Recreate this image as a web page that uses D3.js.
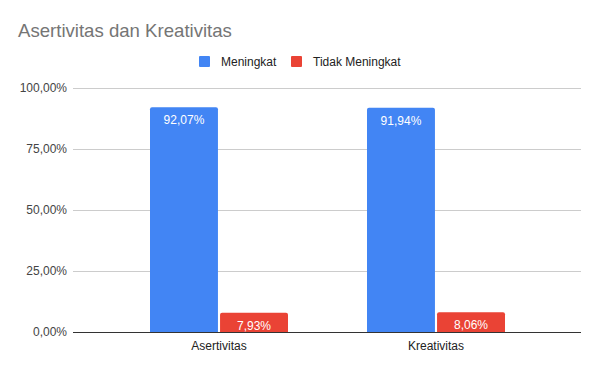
<!DOCTYPE html>
<html>
<head>
<meta charset="utf-8">
<script src="https://cdn.jsdelivr.net/npm/d3@7"></script>
<style>
  body { margin: 0; background: #fff; }
  text { font-family: Arial, "Liberation Sans", sans-serif; }
</style>
</head>
<body>
<div id="chart"></div>
<script>
const categories = ["Asertivitas", "Kreativitas"];
const seriesNames = ["Meningkat", "Tidak Meningkat"];
const meningkat = [92.07, 91.94];
const tidakMeningkat = [7.93, 8.06];
const yTicks = [0, 25, 50, 75, 100];
const colors = ["#4285F4", "#EA4335"];

const width = 600, height = 371;
const plotLeft = 73, plotRight = 581, plotTop = 88, plotBottom = 332;
const font = "Arial, 'Liberation Sans', sans-serif";

const fmt = v => d3.format(".2f")(v).replace(".", ",") + "%";

const svg = d3.select("#chart").append("svg")
  .attr("width", width)
  .attr("height", height);

svg.append("rect").attr("width", width).attr("height", height).attr("fill", "#fff");

// title
svg.append("text")
  .attr("x", 18).attr("y", 37)
  .attr("font-size", 18.6)
  .attr("fill", "#757575")
  .text("Asertivitas dan Kreativitas");

// legend
const legend = svg.append("g");
const legendItems = [{ name: seriesNames[0], x: 199 }, { name: seriesNames[1], x: 291 }];
legendItems.forEach((d, i) => {
  legend.append("rect")
    .attr("x", d.x).attr("y", 56)
    .attr("width", 11).attr("height", 11)
    .attr("rx", 1)
    .attr("fill", colors[i]);
  legend.append("text")
    .attr("x", d.x + 22).attr("y", 66)
    .attr("font-size", 12)
    .attr("fill", "#222")
    .text(d.name);
});

const y = d3.scaleLinear().domain([0, 100]).range([plotBottom, plotTop]);
const x0 = d3.scaleBand().domain(categories).range([110.5, 544.5]).paddingInner(0).paddingOuter(0);
const x1 = d3.scaleBand().domain(seriesNames).range([0, 138]).paddingInner(0.03);

// gridlines
svg.append("g")
  .selectAll("line")
  .data(yTicks.filter(t => t > 0))
  .enter().append("line")
  .attr("x1", plotLeft).attr("x2", plotRight)
  .attr("y1", d => y(d) + 0.5).attr("y2", d => y(d) + 0.5)
  .attr("stroke", "#ccc").attr("stroke-width", 1);

// y axis labels
const yAxis = svg.append("g")
  .attr("transform", `translate(${plotLeft},0)`)
  .call(d3.axisLeft(y).tickValues(yTicks).tickSize(0).tickPadding(6).tickFormat(fmt));
yAxis.select(".domain").remove();
yAxis.selectAll("text")
  .attr("font-size", 12)
  .attr("font-family", font)
  .attr("fill", "#444");

// bars
const rows = categories.map((c, i) => ({ cat: c, values: [meningkat[i], tidakMeningkat[i]] }));
const groups = svg.append("g")
  .selectAll("g")
  .data(rows)
  .enter().append("g")
  .attr("transform", d => `translate(${x0(d.cat) + (x0.bandwidth() - 138) / 2},0)`);

const bars = groups.selectAll("g")
  .data(d => d.values.map((v, i) => ({ name: seriesNames[i], v: v, i: i })))
  .enter().append("g");

bars.append("path")
  .attr("fill", d => colors[d.i])
  .attr("d", d => {
    const bx = x1(d.name), bw = x1.bandwidth(), by = y(d.v), bh = plotBottom - by, r = 2;
    return `M${bx},${by + bh} V${by + r} Q${bx},${by} ${bx + r},${by} H${bx + bw - r} Q${bx + bw},${by} ${bx + bw},${by + r} V${by + bh} Z`;
  });

bars.append("text")
  .attr("x", d => x1(d.name) + x1.bandwidth() / 2)
  .attr("y", d => y(d.v) + 17)
  .attr("text-anchor", "middle")
  .attr("font-size", 12)
  .attr("fill", "#fff")
  .text(d => fmt(d.v));

// baseline
svg.append("line")
  .attr("x1", plotLeft).attr("x2", plotRight)
  .attr("y1", plotBottom + 0.5).attr("y2", plotBottom + 0.5)
  .attr("stroke", "#333").attr("stroke-width", 1);

// x axis labels
const xAxis = svg.append("g")
  .attr("transform", `translate(0,${plotBottom})`)
  .call(d3.axisBottom(x0).tickSize(0).tickPadding(9));
xAxis.select(".domain").remove();
xAxis.selectAll("text")
  .attr("font-size", 12)
  .attr("font-family", font)
  .attr("fill", "#222");
</script>
</body>
</html>
